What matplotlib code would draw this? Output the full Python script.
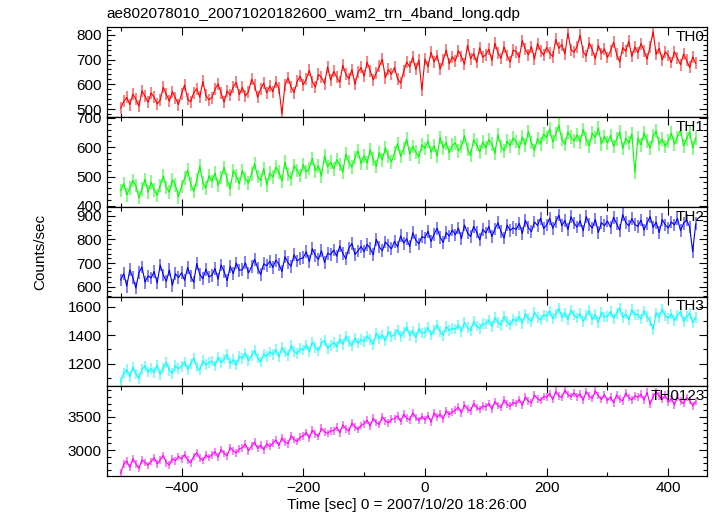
import numpy as np
import matplotlib.pyplot as plt
from matplotlib.ticker import MultipleLocator
from matplotlib.colors import to_rgb

plt.rcParams['font.family'] = ['Liberation Sans', 'DejaVu Sans']

title = 'ae802078010_20071020182600_wam2_trn_4band_long.qdp'
xlabel = 'Time [sec] 0 = 2007/10/20 18:26:00'
ylabel = 'Counts/sec'

# time bins (sec), 5 s apart
time = np.arange(-500, 450, 5)

th0 = [505, 532, 548, 519, 561, 540, 512, 575, 552, 528,
       566, 548, 521, 537, 589, 560, 533, 571, 545, 519,
       562, 598, 541, 530, 567, 583, 549, 612, 556, 538,
       547, 581, 602, 565, 529, 574, 556, 591, 608, 559,
       588, 553, 571, 620, 597, 548, 582, 605, 566, 594,
       571, 609, 585, 482, 598, 626, 590, 567, 612, 633,
       598, 622, 656, 611, 589, 640, 628, 603, 671, 617,
       652, 630, 608, 677, 641, 622, 659, 600, 648, 668,
       633, 689, 655, 618, 646, 672, 701, 627, 660, 641,
       668, 622, 605, 652, 690, 671, 709, 660, 698, 578,
       702, 671, 729, 690, 716, 662, 697, 738, 683, 711,
       694, 735, 712, 681, 757, 703, 724, 688, 747, 709,
       719, 742, 696, 765, 727, 704, 751, 716, 690, 738,
       732, 708, 776, 741, 719, 752, 701, 764, 735, 718,
       749, 726, 711, 781, 745, 760, 722, 806, 740, 729,
       752, 798, 731, 714, 766, 740, 703, 757, 724, 743,
       708, 735, 769, 721, 690, 748, 733, 774, 712, 751,
       727, 764, 736, 701, 752, 812, 720, 745, 698, 731,
       716, 688, 731, 705, 679, 722, 697, 668, 711, 685]

th1 = [452, 476, 438, 461, 487, 469, 428, 458, 491, 447,
       481, 455, 436, 470, 502, 463, 447, 489, 472, 431,
       467, 495, 522, 474, 450, 488, 536, 479, 461, 503,
       484, 512, 470, 497, 531, 488, 458, 521, 502, 476,
       521, 493, 478, 509, 544, 501, 486, 527, 472, 512,
       498, 532, 516, 485, 549, 507, 492, 538, 521, 503,
       541, 515, 528, 562, 519, 537, 502, 571, 533, 549,
       526, 558, 541, 515, 577, 549, 532, 565, 588, 544,
       571, 546, 592, 560, 535, 582, 557, 599, 568, 550,
       581, 612, 569, 595, 628, 577, 603, 584, 566, 609,
       596, 621, 583, 606, 570, 634, 598, 615, 581, 607,
       615, 588, 602, 639, 594, 572, 626, 609, 584, 618,
       598, 627, 611, 579, 643, 603, 588, 621, 605, 632,
       619, 597, 635, 608, 654, 616, 589, 630, 611, 645,
       633, 662, 618, 645, 676, 627, 610, 652, 635, 621,
       642, 618, 661, 629, 605, 648, 633, 666, 612, 637,
       615, 641, 603, 628, 652, 596, 631, 614, 645, 515,
       631, 608, 649, 622, 597, 638, 655, 611, 628, 603,
       622, 648, 611, 634, 660, 605, 629, 652, 598, 632]

th2 = [628, 655, 602, 671, 638, 594, 660, 683, 619, 645,
       637, 664, 615, 692, 649, 622, 671, 606, 655, 638,
       659, 627, 681, 645, 618, 698, 652, 633, 674, 641,
       648, 677, 631, 692, 664, 625, 686, 655, 700, 669,
       672, 701, 658, 684, 716, 679, 651, 697, 688, 708,
       681, 712, 695, 664, 727, 701, 686, 735, 709, 718,
       722, 748, 706, 761, 731, 715, 752, 702, 741, 735,
       755, 729, 772, 741, 718, 764, 783, 736, 751, 770,
       748, 779, 762, 735, 801, 768, 752, 789, 774, 760,
       792, 768, 815, 784, 803, 770, 828, 797, 781, 812,
       806, 835, 791, 822, 847, 809, 787, 829, 814, 840,
       819, 848, 803, 861, 827, 812, 855, 831, 798, 842,
       827, 855, 812, 844, 870, 833, 806, 861, 838, 849,
       842, 868, 825, 881, 850, 833, 874, 859, 890, 846,
       861, 889, 847, 874, 903, 858, 880, 842, 896, 869,
       852, 879, 836, 897, 864, 848, 885, 829, 871, 858,
       878, 851, 894, 866, 839, 905, 872, 857, 888, 863,
       855, 882, 840, 868, 897, 851, 873, 829, 884, 861,
       848, 874, 861, 889, 837, 868, 882, 853, 748, 866]

th3 = [1072, 1135, 1158, 1110, 1176, 1129, 1098, 1162, 1185, 1141,
       1166, 1138, 1190, 1124, 1171, 1210, 1153, 1132, 1187, 1165,
       1182, 1213, 1161, 1198, 1240, 1176, 1155, 1221, 1194, 1207,
       1218, 1185, 1246, 1209, 1232, 1264, 1201, 1228, 1190, 1251,
       1238, 1275, 1221, 1256, 1293, 1240, 1212, 1268, 1251, 1282,
       1265, 1298, 1247, 1312, 1281, 1258, 1326, 1287, 1270, 1305,
       1296, 1331, 1284, 1352, 1313, 1290, 1345, 1362, 1308, 1327,
       1348, 1319, 1372, 1336, 1390, 1355, 1326, 1381, 1344, 1368,
       1357, 1392, 1368, 1335, 1411, 1376, 1402, 1360, 1425, 1389,
       1403, 1437, 1391, 1420, 1456, 1398, 1430, 1382, 1445, 1415,
       1418, 1452, 1401, 1437, 1470, 1425, 1398, 1459, 1433, 1446,
       1442, 1471, 1425, 1489, 1452, 1430, 1495, 1463, 1448, 1480,
       1478, 1507, 1461, 1522, 1490, 1469, 1531, 1495, 1472, 1512,
       1498, 1530, 1482, 1549, 1515, 1493, 1560, 1524, 1505, 1541,
       1532, 1568, 1515, 1549, 1587, 1526, 1555, 1508, 1575, 1540,
       1521, 1550, 1497, 1536, 1572, 1509, 1544, 1490, 1559, 1528,
       1530, 1566, 1518, 1553, 1591, 1522, 1548, 1507, 1578, 1541,
       1545, 1512, 1569, 1531, 1498, 1440, 1556, 1525, 1582, 1534,
       1518, 1549, 1502, 1537, 1565, 1496, 1529, 1553, 1487, 1524]

th0123 = [2650, 2790, 2835, 2740, 2870, 2795, 2725, 2850, 2815, 2770,
          2830, 2885, 2790, 2855, 2920, 2810, 2775, 2870, 2840, 2905,
          2865, 2935, 2850, 2810, 2905, 2960, 2880, 2845, 2925, 2890,
          2930, 2975, 2895, 3010, 2950, 2915, 3040, 2985, 2960, 3020,
          3035, 3090, 2990, 3060, 3120, 3025, 3075, 3005, 3095, 3055,
          3105, 3150, 3070, 3185, 3120, 3095, 3215, 3160, 3130, 3195,
          3215, 3265, 3180, 3300, 3240, 3205, 3330, 3275, 3250, 3290,
          3290, 3345, 3260, 3380, 3320, 3285, 3405, 3350, 3310, 3370,
          3395, 3450, 3360, 3480, 3415, 3385, 3500, 3440, 3410, 3465,
          3470, 3515, 3430, 3540, 3480, 3455, 3560, 3490, 3445, 3505,
          3455, 3520, 3420, 3560, 3495, 3540, 3470, 3590, 3535, 3575,
          3600, 3645, 3560, 3680, 3615, 3590, 3700, 3640, 3610, 3665,
          3650, 3700, 3615, 3730, 3670, 3640, 3755, 3690, 3660, 3715,
          3700, 3760, 3675, 3800, 3735, 3710, 3830, 3770, 3745, 3805,
          3795, 3850, 3760, 3885, 3815, 3790, 3900, 3835, 3805, 3860,
          3800, 3845, 3750, 3880, 3810, 3775, 3890, 3820, 3760, 3835,
          3745, 3800, 3710, 3830, 3765, 3740, 3860, 3790, 3755, 3815,
          3795, 3840, 3750, 3870, 3690, 3805, 3880, 3810, 3760, 3825,
          3720, 3775, 3680, 3800, 3735, 3700, 3790, 3745, 3665, 3730]

# typical 1-sigma error per band
errors = [24, 23, 27, 37, 58]

names = ['TH0', 'TH1', 'TH2', 'TH3', 'TH0123']
series = [th0, th1, th2, th3, th0123]
colors = ['#ff0000', '#00ff00', '#0000ff', '#00ffff', '#ff00ff']
ylims = [(469, 829), (397, 703), (558, 938), (1042, 1670), (2610, 3960)]
ymajor = [100, 100, 100, 200, 500]
yminor = [20, 20, 20, 100, 100]

fig = plt.figure(figsize=(7.17, 5.16), dpi=100)
axs = fig.subplots(5, 1, sharex=True, gridspec_kw=dict(hspace=0))
fig.subplots_adjust(left=0.1488, right=0.9856, top=0.947, bottom=0.0775)

for i, ax in enumerate(axs):
    c = np.array(to_rgb(colors[i]))
    light = tuple(c + (1 - c) * 0.5)
    ax.errorbar(time, series[i], yerr=errors[i], fmt='-', color=colors[i],
                lw=0.8, ecolor=light, elinewidth=1.4, capsize=0)
    ax.set_ylim(*ylims[i])
    ax.set_xlim(-523, 463)
    ax.yaxis.set_major_locator(MultipleLocator(ymajor[i]))
    ax.yaxis.set_minor_locator(MultipleLocator(yminor[i]))
    ax.xaxis.set_major_locator(MultipleLocator(200))
    ax.xaxis.set_minor_locator(MultipleLocator(100))
    ax.tick_params(which='both', direction='in', top=True, right=True,
                   labelsize=11, width=0.8)
    ax.tick_params(which='major', length=6)
    ax.tick_params(which='minor', length=3)
    for s in ax.spines.values():
        s.set_linewidth(0.9)
    ax.text(0.997, 0.97, names[i], transform=ax.transAxes, ha='right',
            va='top', fontsize=11)

axs[-1].set_xlabel(xlabel, fontsize=11, labelpad=2)
fig.text(106.7 / 717, 1 - 14 / 516, title, ha='left', va='center', fontsize=11)
fig.text(40 / 717, 0.512, ylabel, rotation=90, ha='center', va='center',
         fontsize=11)

fig.savefig('out.png', dpi=100)
